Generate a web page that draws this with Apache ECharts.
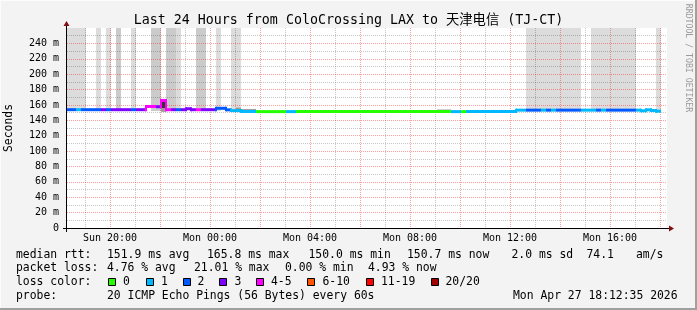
<!DOCTYPE html>
<html><head><meta charset="utf-8">
<script src="https://cdn.jsdelivr.net/npm/echarts@6/dist/echarts.min.js"></script>
<style>html,body{margin:0;padding:0;background:#f3f3f3}#c{width:697px;height:310px}</style>
</head><body><div id="c"></div>
<script>
// ---- data (time axis = hours since Sun 00:00) ----
const xMin = 18.28, xMax = 42.28;
const hourTicks = [19,20,21,22,23,24,25,26,27,28,29,30,31,32,33,34,35,36,37,38,39,40,41,42];
const xLabelTicks = [20,24,28,32,36,40];
const xLabelText = ['Sun 20:00','Mon 00:00','Mon 04:00','Mon 08:00','Mon 12:00','Mon 16:00'];
const yTicks = [0,20,40,60,80,100,120,140,160,180,200,220,240];

// median rtt segments (ms) and number of lost pings (of 20)
const segStart = [18.28,18.64,18.84,19.64,19.84,20.04,20.84,21.04,21.44,21.84,22.04,22.24,22.44,22.64,22.84,23.04,23.24,23.44,23.64,24.24,24.64,24.84,25.24,25.84,27.04,27.44,33.64,34.04,34.24,36.24,36.64,37.24,37.44,37.64,37.84,38.84,39.44,39.64,39.84,41.04,41.24,41.44,41.64,41.84];
const lastEnd = 42.04;
const medianRtt = [153.8,153.8,153.8,153.8,153.8,153.8,153.8,153.8,158.0,157.6,165.8,153.8,153.8,153.8,153.8,155.0,153.8,153.8,153.8,155.6,153.6,152.6,151.5,151.3,151.3,151.3,151.3,151.3,151.5,153.2,153.2,153.2,153.2,153.2,153.2,153.2,153.2,153.2,153.2,153.2,152.4,153.6,152.8,151.9];
const lostPings = [2,1,2,3,2,3,2,3,4,3,4,4,3,2,3,3,3,4,3,2,2,1,1,0,1,0,1,0,1,1,2,1,2,1,2,1,2,1,2,1,1,1,1,1];

// smoke (rtt spread) blocks
const smokeStart = [18.28,19.44,19.84,20.24,20.84,21.64,22.24,22.64,23.44,24.24,24.84,36.64,39.24,41.84,22.04,22.04,25.04,25.24,33.08];
const smokeEnd   = [19.04,19.64,20.04,20.44,21.04,22.04,22.64,22.84,23.84,24.44,25.24,38.84,41.04,42.04,22.24,22.24,25.24,25.84,33.64];
const smokeLow   = [152,152,152,152,152,152,152,152,152,152,152,152,152,152,151,156,153,152.2,152.5];
const smokeHigh  = [260,260,260,260,260,260,260,260,260,260,260,260,260,260,156,165.5,156.5,154,154];
const smokeShade = [0,0,0,1,0,1,1,0,1,0,0,0,0,0,2,3,2,3,2];

const shadeColors = ['#dcdcdc','#cbcbcb','#999999','#333333'];
const lossColors = ['#26ff00','#00b8ff','#0059ff','#7e00ff','#ff00ff','#ff5500','#ff0000','#a10000'];
const lossLabels = ['0','1','2','3','4-5','6-10','11-19','20/20'];

// legend texts
const row1 = [['median rtt:',16],['151.9 ms avg',107],['165.8 ms max',207],['150.0 ms min',308.5],['150.7 ms now',407],['2.0 ms sd',511.5],['74.1',586.5],['am/s',636]];
const row2 = [['packet loss:',16],['4.76 % avg',107],['21.01 % max',194],['0.00 % min',285],['4.93 % now',368]];
const row4 = [['probe:',16],['20 ICMP Echo Pings (56 Bytes) every 60s',107],['Mon Apr 27 18:12:35 2026',513]];
const lossBoxX = [108,146,183,219,256,307,366,431];
const lossTextX = [123,161,197.5,234.5,271,322.5,381,445.5];

// ---- build ----
const MONO = "'DejaVu Sans Mono', 'Noto Sans CJK SC', monospace";
const G = {left:67, top:28, width:600, height:200};
const lossGroup = l => l===0?0 : l===1?1 : l===2?2 : l===3?3 : l<=5?4 : l<=10?5 : l<=19?6 : 7;

const medianData = segStart.map((s,i)=>[s, i<segStart.length-1?segStart[i+1]:lastEnd, medianRtt[i], lostPings[i], i>0?medianRtt[i-1]:medianRtt[i]]);
const smokeData = smokeStart.map((s,i)=>[s, smokeEnd[i], smokeLow[i], smokeHigh[i], smokeShade[i]]);

const graphics = [];
// frame
graphics.push({type:'rect', shape:{x:0,y:0,width:697,height:1}, style:{fill:'#fcfcfc'}, silent:true});
graphics.push({type:'rect', shape:{x:0,y:0,width:1,height:310}, style:{fill:'#fcfcfc'}, silent:true});
graphics.push({type:'rect', shape:{x:695,y:0,width:2,height:310}, style:{fill:'#a0a0a0'}, silent:true});
graphics.push({type:'rect', shape:{x:0,y:308,width:697,height:2}, style:{fill:'#a0a0a0'}, silent:true});
// axes
const x0 = G.left, y0 = G.top + G.height, x1 = G.left + G.width, yTop = G.top;
graphics.push({type:'line', z:10, shape:{x1:x0-4, y1:y0+0.5, x2:x1+4, y2:y0+0.5}, style:{stroke:'#000', lineWidth:1}});
graphics.push({type:'line', z:10, shape:{x1:x0-0.5, y1:y0+4, x2:x0-0.5, y2:yTop-4}, style:{stroke:'#000', lineWidth:1}});
graphics.push({type:'polygon', z:11, shape:{points:[[x1+2,y0-2.5],[x1+2,y0+3.5],[x1+7,y0+0.5]]}, style:{fill:'#801010'}});
graphics.push({type:'polygon', z:11, shape:{points:[[x0-3.5,yTop-2],[x0+2.5,yTop-2],[x0-0.5,yTop-7]]}, style:{fill:'#801010'}});
// title etc.
graphics.push({type:'text', x:348.5, y:20.5, style:{text:'Last 24 Hours from ColoCrossing LAX to 天津电信 (TJ-CT)', font:"13.3px "+MONO, fill:'#000', align:'center', verticalAlign:'middle'}});
graphics.push({type:'text', x:9.5, y:128, rotation:Math.PI/2, style:{text:'Seconds', font:"11.4px "+MONO, fill:'#000', align:'center', verticalAlign:'middle'}});
graphics.push({type:'text', x:688, y:58, rotation:-Math.PI/2, style:{text:'RRDTOOL / TOBI OETIKER', font:"8.2px "+MONO, fill:'#9a9a9a', align:'center', verticalAlign:'middle'}});
const addRow = (row, y) => row.forEach(([t,x]) => graphics.push({type:'text', x:x, y:y, style:{text:t, font:"11.4px "+MONO, fill:'#000', align:'left', verticalAlign:'middle'}}));
addRow(row1, 254.7);
addRow(row2, 268.4);
addRow([['loss color:',16]], 282.2);
addRow(row4, 296);
lossColors.forEach((c,i)=>{
  graphics.push({type:'rect', shape:{x:lossBoxX[i]+0.5, y:278.5, width:7, height:7}, style:{fill:c, stroke:'#000', lineWidth:1}});
  graphics.push({type:'text', x:lossTextX[i], y:282.2, style:{text:lossLabels[i], font:"11.4px "+MONO, fill:'#000', align:'left', verticalAlign:'middle'}});
});

const chart = echarts.init(document.getElementById('c'), null, {renderer:'canvas', width:697, height:310});
chart.setOption({
  backgroundColor:'#f3f3f3',
  animation:false,
  grid:{left:G.left, top:G.top, width:G.width, height:G.height, show:true, backgroundColor:'#ffffff', borderWidth:0},
  xAxis:{
    type:'value', min:xMin, max:xMax, z:3,
    axisLine:{show:false},
    axisTick:{show:false, customValues:hourTicks},
    axisLabel:{customValues:xLabelTicks, formatter:v=>xLabelText[xLabelTicks.indexOf(Math.round(v))] || '', fontFamily:MONO, fontSize:10, color:'#000', margin:5},
    splitLine:{show:true, lineStyle:{color:['rgba(0,0,0,0.22)','rgba(255,0,0,0.38)'], type:'dotted', width:1}}
  },
  yAxis:{
    type:'value', min:0, max:260, interval:20, z:3,
    axisLine:{show:false},
    axisTick:{show:false, customValues:yTicks},
    axisLabel:{customValues:yTicks, formatter:v=>v===0?'0':v+' m', fontFamily:MONO, fontSize:10, color:'#000', margin:8},
    splitLine:{show:true, lineStyle:{color:'rgba(255,0,0,0.38)', type:'dotted', width:1}},
    minorTick:{show:false, splitNumber:2},
    minorSplitLine:{show:true, lineStyle:{color:'rgba(0,0,0,0.22)', type:'dotted', width:1}}
  },
  series:[
    {type:'custom', z:2, data:smokeData, encode:{x:[0,1], y:[2,3]},
     renderItem:(params, api)=>{
       const a = api.coord([api.value(0), api.value(3)]);
       const b = api.coord([api.value(1), api.value(2)]);
       return {type:'rect', shape:{x:a[0], y:a[1], width:b[0]-a[0], height:b[1]-a[1]}, style:{fill:shadeColors[api.value(4)]}};
     }},
    {type:'custom', z:5, data:medianData, encode:{x:[0,1], y:[2]},
     renderItem:(params, api)=>{
       const v = api.value(2), pv = api.value(4);
       const a = api.coord([api.value(0), v]);
       const b = api.coord([api.value(1), v]);
       const p = api.coord([api.value(0), pv]);
       const col = lossColors[lossGroup(api.value(3))];
       const children = [{type:'rect', shape:{x:a[0], y:a[1]-1.5, width:b[0]-a[0], height:3}, style:{fill:col}}];
       if (Math.abs(p[1]-a[1]) > 0.5) {
         children.push({type:'rect', shape:{x:a[0]-1, y:Math.min(p[1],a[1])-1.5, width:2, height:Math.abs(p[1]-a[1])+3}, style:{fill:col}});
       }
       return {type:'group', children};
     }}
  ],
  graphic:graphics
});
</script></body></html>
